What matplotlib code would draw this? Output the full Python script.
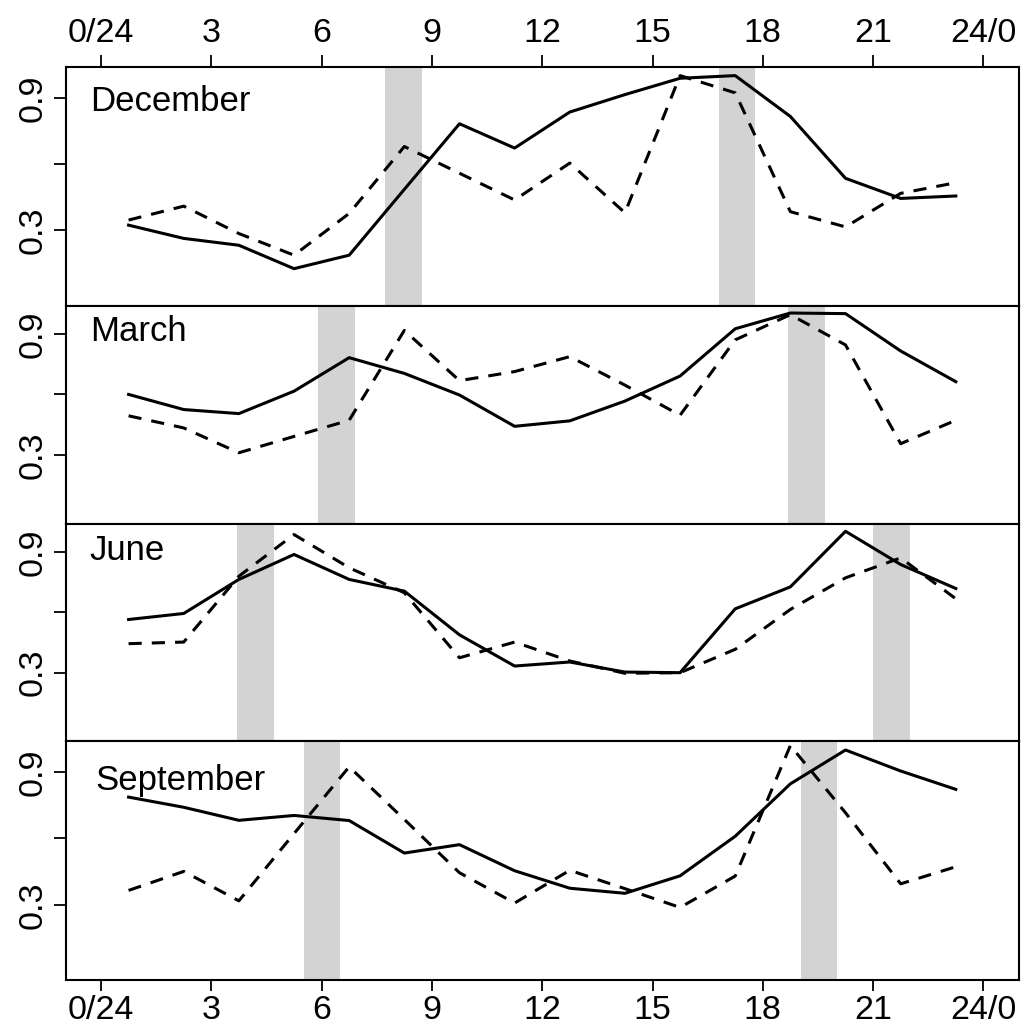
import numpy as np
import matplotlib
matplotlib.use("Agg")
import matplotlib.pyplot as plt

plt.rcParams['font.family'] = ['Liberation Sans', 'DejaVu Sans']

# half-hour-centred time bins (1.5 h wide)
hours = np.arange(16) * 1.5 + 0.75

months = ["December", "March", "June", "September"]

solid = {
    "December": [0.324, 0.264, 0.233, 0.127, 0.188, 0.486, 0.783, 0.673,
                 0.836, 0.915, 0.989, 1.001, 0.816, 0.536, 0.445, 0.456],
    "March": [0.600, 0.525, 0.505, 0.616, 0.782, 0.704, 0.597, 0.442,
              0.469, 0.567, 0.691, 0.925, 1.003, 1.000, 0.815, 0.663],
    "June": [0.564, 0.594, 0.763, 0.887, 0.763, 0.705, 0.488, 0.333,
             0.353, 0.303, 0.300, 0.617, 0.726, 1.002, 0.837, 0.718],
    "September": [0.787, 0.741, 0.682, 0.704, 0.681, 0.534, 0.572, 0.454,
                  0.375, 0.352, 0.431, 0.610, 0.847, 1.000, 0.905, 0.822],
}

dashed = {
    "December": [0.347, 0.410, 0.286, 0.188, 0.377, 0.680, 0.559, 0.438,
                 0.605, 0.380, 1.001, 0.923, 0.385, 0.316, 0.468, 0.516],
    "March": [0.494, 0.434, 0.311, 0.392, 0.472, 0.917, 0.668, 0.713,
              0.787, 0.646, 0.497, 0.870, 0.995, 0.845, 0.356, 0.472],
    "June": [0.444, 0.452, 0.779, 0.986, 0.821, 0.697, 0.374, 0.452,
             0.358, 0.297, 0.300, 0.416, 0.614, 0.771, 0.870, 0.667],
    "September": [0.365, 0.451, 0.318, 0.622, 0.924, 0.686, 0.445, 0.308,
                  0.456, 0.373, 0.288, 0.430, 1.020, 0.716, 0.395, 0.472],
}

# sunrise / sunset bands (start hour, end hour)
bands = {
    "December": [(7.72, 8.72), (16.80, 17.80)],
    "March": [(5.91, 6.90), (18.69, 19.69)],
    "June": [(3.70, 4.70), (21.00, 22.00)],
    "September": [(5.52, 6.51), (19.03, 20.01)],
}

label_pos = {
    "December": (-0.3, 0.885),
    "March": (-0.3, 0.91),
    "June": (-0.32, 0.905),
    "September": (-0.16, 0.862),
}

xticks = [0, 3, 6, 9, 12, 15, 18, 21, 24]
xticklabels = ["0/24", "3", "6", "9", "12", "15", "18", "21", "24/0"]

fs = 24.5
W, H = 1025, 1028
fig = plt.figure(figsize=(W / 100, H / 100), dpi=100)
gs = fig.add_gridspec(4, 1, left=65.7 / W, right=1018.7 / W,
                      top=1 - 67 / H, bottom=1 - 980 / H, hspace=0,
                      height_ratios=[238, 217.6, 217, 238.3])

for k, m in enumerate(months):
    ax = fig.add_subplot(gs[k])
    for a, b in bands[m]:
        ax.axvspan(a, b, color="#d3d3d3", lw=0, zorder=0)
    ax.plot(hours, solid[m], color="black", lw=2.2, zorder=3)
    ax.plot(hours, dashed[m], color="black", lw=2.2,
            linestyle=(0, (4.3, 3.3)), zorder=3)
    ax.text(label_pos[m][0], label_pos[m][1], m, fontsize=fs + 0.5,
            ha="left", va="center")
    ax.set_xlim(-0.96, 24.96)
    ax.set_ylim(-0.04, 1.04)
    ax.set_yticks([0.3, 0.6, 0.9], ["0.3", "", "0.9"])
    ax.tick_params(axis="y", length=8.6, width=1.3, pad=3.5, labelsize=fs)
    for lab in ax.get_yticklabels():
        lab.set_rotation(90)
        lab.set_va("center")
    for s in ax.spines.values():
        s.set_linewidth(1.5)
    ax.set_xticks(xticks)
    if k == 0:
        ax.xaxis.tick_top()
        ax.set_xticklabels(xticklabels)
        ax.tick_params(axis="x", length=8.6, width=1.3, pad=4.3, labelsize=fs)
    elif k == 3:
        ax.set_xticklabels(xticklabels)
        ax.tick_params(axis="x", length=8.0, width=1.3, pad=2.5, labelsize=fs)
    else:
        ax.tick_params(axis="x", length=0, labelbottom=False)

fig.savefig("out.png", dpi=100)
